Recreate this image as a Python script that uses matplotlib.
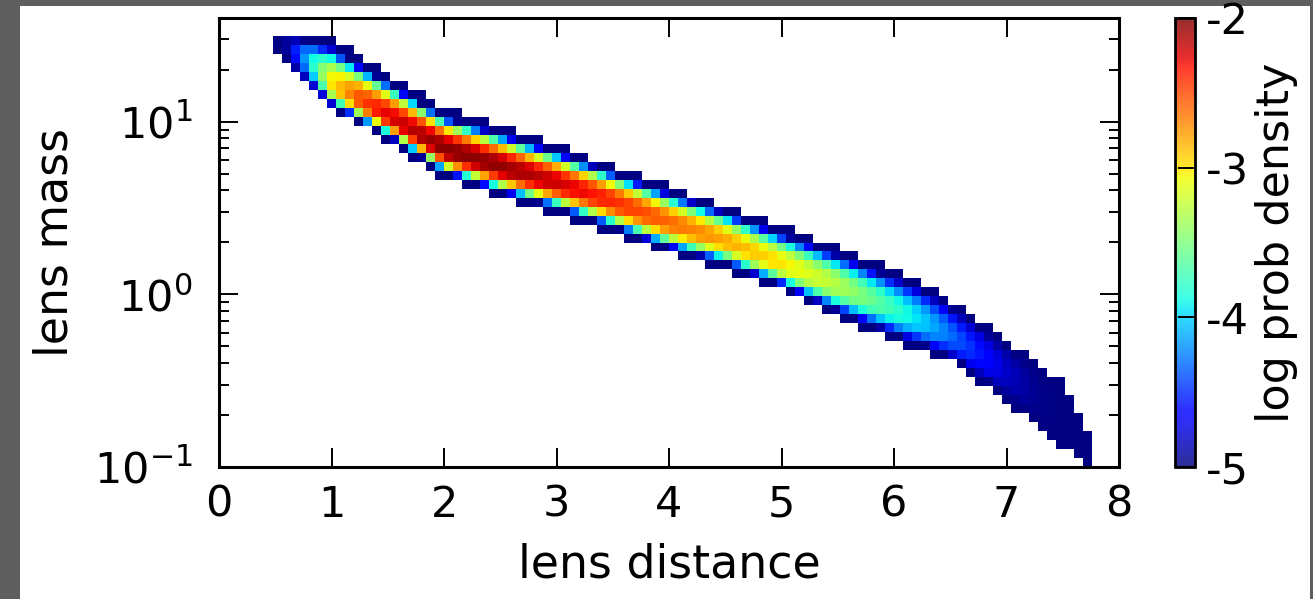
import numpy as np
import matplotlib
matplotlib.use("Agg")
import matplotlib.pyplot as plt
from matplotlib.colors import ListedColormap, Normalize
from matplotlib.cm import ScalarMappable
from matplotlib.patches import Rectangle

plt.rcParams['font.family'] = ['DejaVu Sans']
plt.rcParams['axes.unicode_minus'] = False
plt.rcParams['mathtext.default'] = 'regular'

# Posterior ridge sampled along lens distance (log10 of lens mass)
ridge_dist = [0.50, 0.60, 0.80, 1.00, 1.25, 1.50, 2.00, 2.50, 3.00, 3.50, 4.00,
              4.50, 5.00, 5.50, 6.00, 6.25, 6.50, 7.00, 7.25, 7.50, 7.75]
ridge_upper = [1.50, 1.50, 1.50, 1.49, 1.38, 1.28, 1.08, 0.98, 0.87, 0.75, 0.63,
               0.52, 0.40, 0.27, 0.14, 0.07, -0.03, -0.27, -0.39, -0.51, -0.81]
ridge_center = [1.48, 1.45, 1.35, 1.21, 1.12, 1.03, 0.84, 0.74, 0.65, 0.54, 0.42,
                0.31, 0.17, 0.05, -0.09, -0.16, -0.24, -0.45, -0.57, -0.70, -0.93]
ridge_lower = [1.42, 1.33, 1.19, 1.07, 0.98, 0.89, 0.67, 0.56, 0.46, 0.35, 0.23,
               0.14, 0.02, -0.14, -0.27, -0.33, -0.39, -0.62, -0.76, -0.89, -1.00]
ridge_peak = [-5.0, -4.9, -4.0, -3.0, -2.5, -2.25, -2.02, -2.05, -2.2, -2.4, -2.6,
              -2.8, -3.0, -3.3, -3.75, -4.0, -4.3, -4.8, -4.95, -5.0, -5.0]

cbar_ticks = [-5, -4, -3, -2]
dens_min, dens_max = -5, -2

# histogram binning
dist_edges = np.linspace(0, 8, 101)
logm_edges = np.linspace(-1, 1.6, 51)


def density_grid():
    d_mid = 0.5 * (dist_edges[1:] + dist_edges[:-1])
    m_mid = 0.5 * (logm_edges[1:] + logm_edges[:-1])
    D, M = np.meshgrid(d_mid, m_mid)
    c = np.interp(D, ridge_dist, ridge_center)
    up = np.interp(D, ridge_dist, ridge_upper)
    lo = np.interp(D, ridge_dist, ridge_lower)
    pk = np.interp(D, ridge_dist, ridge_peak)
    t = np.where(M >= c, (M - c) / np.maximum(up - c, 1e-3),
                 (c - M) / np.maximum(c - lo, 1e-3))
    # sparse outer bins sit at the floor of the colour scale
    dens = pk - (pk - dens_min) * np.minimum(t / 0.78, 1) ** 2.4
    empty = (t > 1) | (D < ridge_dist[0]) | (D > ridge_dist[-1])
    return np.ma.masked_where(empty, np.clip(dens, dens_min, dens_max))


W, H = 1313, 599
fig = plt.figure(figsize=(W / 100, H / 100), dpi=100)
fig.patch.set_facecolor('#5e5e5e')
fig.add_artist(Rectangle((20 / W, 0), 1290 / W, 1 - 6 / H,
                         transform=fig.transFigure, facecolor='white',
                         edgecolor='none', zorder=0))

ax = fig.add_axes([219 / W, 1 - 467 / H, 900 / W, 449 / H])
mesh = ax.pcolormesh(dist_edges, 10 ** logm_edges, density_grid(),
                     cmap='jet', vmin=dens_min, vmax=dens_max)
ax.set_yscale('log')
ax.set_xlim(0, 8)
ax.set_ylim(10 ** logm_edges[0], 10 ** logm_edges[-1])
ax.set_xticks(range(0, 9))

for sp in ax.spines.values():
    sp.set_linewidth(2.2)
ax.tick_params(which='both', direction='in', top=True, right=True,
               labelsize=31, width=1.4)
ax.tick_params(which='major', length=14)
ax.tick_params(which='minor', length=7)
ax.tick_params(axis='x', pad=12)
ax.tick_params(axis='y', pad=19)
ax.set_xlabel('lens distance', fontsize=33, labelpad=12)
ax.set_ylabel('lens mass', fontsize=33, labelpad=12)

# colorbar drawn with a slightly faded jet
jet = plt.get_cmap('jet')(np.linspace(0, 1, 256))
faded = ListedColormap(jet * 0.82 + 0.18 * np.array([1, 1, 1, 1]))
cax = fig.add_axes([1175 / W, 1 - 467 / H, 20 / W, 449 / H])
cb = fig.colorbar(ScalarMappable(Normalize(dens_min, dens_max), faded),
                  cax=cax, ticks=cbar_ticks)
cb.outline.set_linewidth(2)
cb.ax.tick_params(direction='in', length=12, width=1.4, labelsize=31, pad=8)
cb.set_label('log prob density', fontsize=32, labelpad=4)

fig.savefig('out.png', dpi=100, facecolor=fig.get_facecolor())
